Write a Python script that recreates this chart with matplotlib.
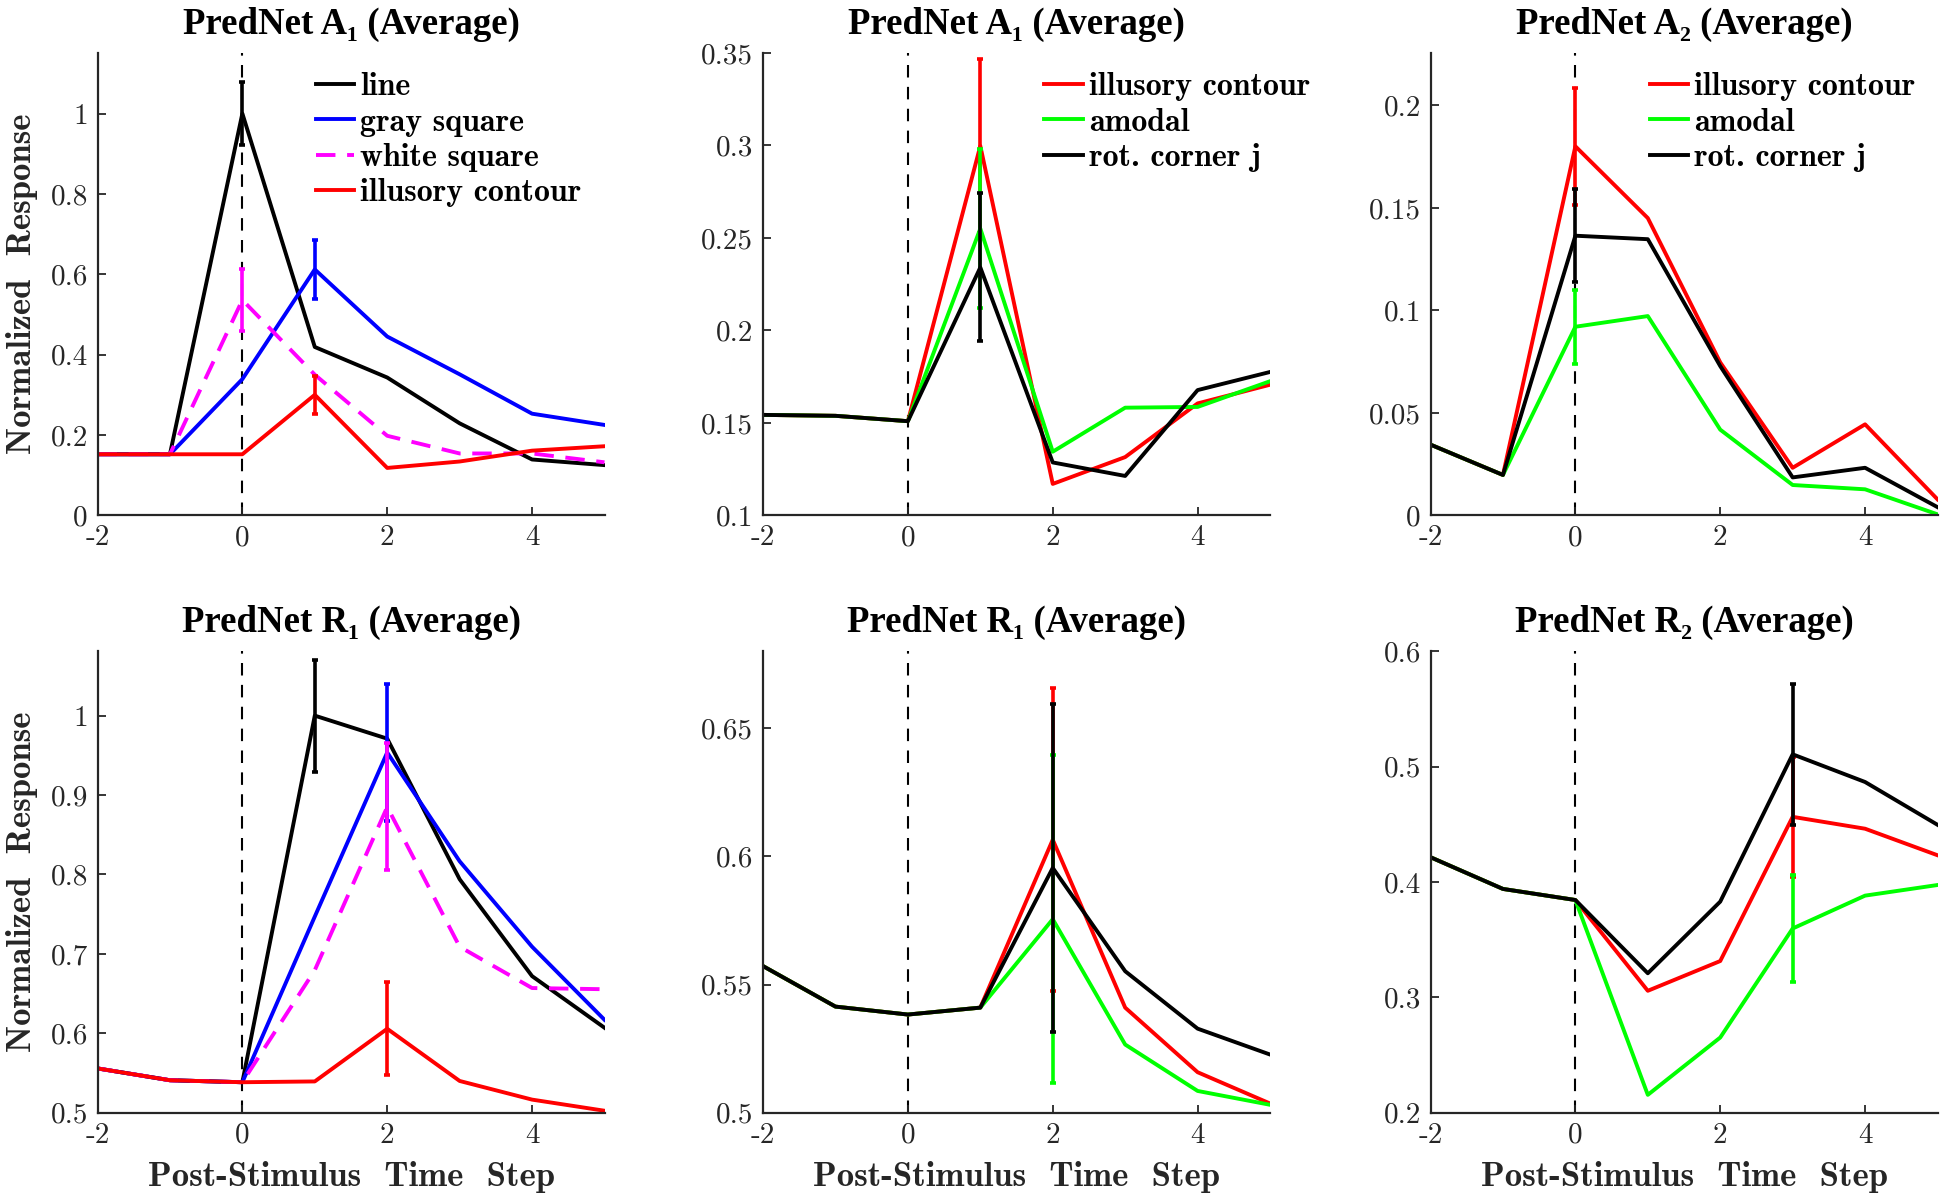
import numpy as np
import matplotlib
matplotlib.use("Agg")
import matplotlib.pyplot as plt
from matplotlib.ticker import FuncFormatter

plt.rcParams["axes.unicode_minus"] = False

t = [-2, -1, 0, 1, 2, 3, 4, 5]

# PredNet A1, square stimuli
a1_line = [0.152, 0.152, 1.0, 0.419, 0.343, 0.229, 0.139, 0.125]
a1_gray = [0.152, 0.152, 0.339, 0.612, 0.445, 0.351, 0.253, 0.225]
a1_white = [0.152, 0.152, 0.536, 0.350, 0.198, 0.154, 0.154, 0.132]
a1_ic = [0.152, 0.152, 0.152, 0.300, 0.118, 0.134, 0.161, 0.172]
a1_sq_err = {"line": (0, 0.078), "gray": (1, 0.073), "white": (0, 0.077), "ic": (1, 0.048)}

# PredNet A1, contour stimuli
a1b_ic = [0.1543, 0.1538, 0.1509, 0.2997, 0.117, 0.1315, 0.1605, 0.1706]
a1b_amodal = [0.1543, 0.1538, 0.1509, 0.255, 0.1344, 0.1582, 0.1586, 0.1725]
a1b_rot = [0.1543, 0.1538, 0.1509, 0.234, 0.1286, 0.1213, 0.1677, 0.1775]
a1b_err = {"ic": (1, 0.047), "amodal": (1, 0.043), "rot": (1, 0.040)}

# PredNet A2
a2_ic = [0.0345, 0.0197, 0.180, 0.145, 0.0746, 0.0232, 0.0444, 0.0078]
a2_amodal = [0.0345, 0.0197, 0.092, 0.0972, 0.0418, 0.0148, 0.0127, 0.0005]
a2_rot = [0.0345, 0.0197, 0.1364, 0.1347, 0.0728, 0.0185, 0.0232, 0.004]
a2_err = {"ic": (0, 0.0286), "amodal": (0, 0.018), "rot": (0, 0.0227)}

# PredNet R1, square stimuli
r1_line = [0.5558, 0.5409, 0.5384, 1.0, 0.971, 0.794, 0.672, 0.607]
r1_gray = [0.5558, 0.5409, 0.5384, 0.747, 0.9536, 0.8166, 0.709, 0.617]
r1_white = [0.5558, 0.5409, 0.5384, 0.6795, 0.885, 0.709, 0.657, 0.6555]
r1_ic = [0.5558, 0.5409, 0.5384, 0.5394, 0.6057, 0.540, 0.5165, 0.5025]
r1_sq_err = {"line": (1, 0.0705), "gray": (2, 0.086), "white": (2, 0.08), "ic": (2, 0.0585)}

# PredNet R1, contour stimuli
r1b_ic = [0.5572, 0.5414, 0.5383, 0.541, 0.6065, 0.541, 0.5158, 0.5036]
r1b_amodal = [0.5572, 0.5414, 0.5383, 0.541, 0.5755, 0.5266, 0.5085, 0.5031]
r1b_rot = [0.5572, 0.5414, 0.5383, 0.541, 0.5955, 0.5552, 0.5328, 0.5227]
r1b_err = {"ic": (2, 0.059), "amodal": (2, 0.064), "rot": (2, 0.064)}

# PredNet R2
r2_ic = [0.4215, 0.394, 0.3844, 0.3057, 0.3315, 0.4565, 0.4462, 0.4232]
r2_amodal = [0.4215, 0.394, 0.3844, 0.2155, 0.2652, 0.3597, 0.3882, 0.3974]
r2_rot = [0.4215, 0.394, 0.3844, 0.3209, 0.383, 0.5107, 0.4867, 0.4496]
r2_err = {"ic": (3, 0.052), "amodal": (3, 0.046), "rot": (3, 0.061)}

sq_labels = ["line", "gray square", "white square", "illusory contour"]
ct_labels = ["illusory contour", "amodal", "rot. corner j"]

panels = [
    ("A₁", [a1_line, a1_gray, a1_white, a1_ic], a1_sq_err, "sq", (0, 1.151), [0, 0.2, 0.4, 0.6, 0.8, 1]),
    ("A₁", [a1b_ic, a1b_amodal, a1b_rot], a1b_err, "ct", (0.1, 0.35), [0.1, 0.15, 0.2, 0.25, 0.3, 0.35]),
    ("A₂", [a2_ic, a2_amodal, a2_rot], a2_err, "ct", (0, 0.2256), [0, 0.05, 0.1, 0.15, 0.2]),
    ("R₁", [r1_line, r1_gray, r1_white, r1_ic], r1_sq_err, "sq", (0.5, 1.081), [0.5, 0.6, 0.7, 0.8, 0.9, 1]),
    ("R₁", [r1b_ic, r1b_amodal, r1b_rot], r1b_err, "ct", (0.5, 0.68), [0.5, 0.55, 0.6, 0.65]),
    ("R₂", [r2_ic, r2_amodal, r2_rot], r2_err, "ct", (0.2, 0.6), [0.2, 0.3, 0.4, 0.5, 0.6]),
]

sq_style = [("k", "-"), ((0, 0, 1), "-"), ((1, 0, 1), (0, (5, 3))), ((1, 0, 0), "-")]
ct_style = [((1, 0, 0), "-"), ((0, 1, 0), "-"), ("k", "-")]
sq_keys = ["line", "gray", "white", "ic"]
ct_keys = ["ic", "amodal", "rot"]

fig = plt.figure(figsize=(19.5, 12.01), dpi=100)
lefts = [0.0500, 0.3913, 0.7336]
w = 0.260
rows = [(0.5709, 0.3851), (0.0735, 0.3842)]
legend_x = [0.43, 0.555, 0.432]

gray = "#262626"
label_font = {"family": "cmb10", "size": 25}

for i, (layer, series, errs, kind, ylim, yticks) in enumerate(panels):
    r, c = divmod(i, 3)
    ax = fig.add_axes([lefts[c], rows[r][0], w, rows[r][1]])
    ax.axvline(0, color="k", lw=1.5, ls=(0, (6, 4.5)), zorder=1)
    styles = sq_style if kind == "sq" else ct_style
    keys = sq_keys if kind == "sq" else ct_keys
    labels = sq_labels if kind == "sq" else ct_labels
    for y, (col, ls), key, lab in zip(series, styles, keys, labels):
        ax.plot(t, y, color=col, ls=ls, lw=2.8, label=lab, zorder=2)
        xe, e = errs[key]
        ax.errorbar(xe, y[t.index(xe)], yerr=e, color=col, lw=2.6, capsize=2.5,
                    capthick=2.6, fmt="none", zorder=2)
    ax.set_xlim(-2, 5)
    ax.set_ylim(*ylim)
    ax.set_xticks([-2, 0, 2, 4])
    ax.set_yticks(yticks)
    ax.xaxis.set_major_formatter(FuncFormatter(lambda v, p: "%g" % v))
    ax.yaxis.set_major_formatter(FuncFormatter(lambda v, p: "%g" % v))
    for s in ["top", "right"]:
        ax.spines[s].set_visible(False)
    for s in ["left", "bottom"]:
        ax.spines[s].set_color(gray)
        ax.spines[s].set_linewidth(1.6)
    ax.tick_params(direction="in", length=6, width=1.3, color=gray, labelcolor=gray, pad=7)
    for lbl in ax.get_xticklabels() + ax.get_yticklabels():
        lbl.set_fontfamily("cmr10")
        lbl.set_fontsize(21)
    ax.set_title("PredNet " + layer + " (Average)",
                 fontdict={"family": ["Liberation Serif", "DejaVu Serif"], "weight": "bold", "size": 26.5},
                 pad=14)
    if c == 0:
        ax.set_ylabel("Normalized  Response", fontdict=label_font, color=gray, labelpad=9)
    if r == 1:
        ax.set_xlabel("Post-Stimulus  Time  Step", fontdict=label_font, color=gray, labelpad=9)
    if r == 0:
        ax.legend(loc="upper left", bbox_to_anchor=(legend_x[c], 0.958), frameon=False,
                  prop={"family": "cmb10", "size": 23}, handlelength=1.2,
                  handletextpad=0.2, labelspacing=0.2, borderpad=0, borderaxespad=0)

fig.savefig("out.png", dpi=100)
